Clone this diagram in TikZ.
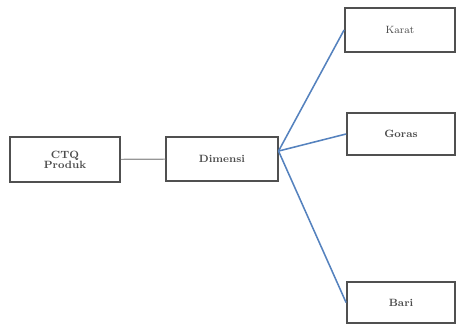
\documentclass[tikz,border=0pt]{standalone}
\usepackage{tikz}
\usetikzlibrary{arrows,arrows.meta}
\usetikzlibrary{calc}
\definecolor{rahmen}{RGB}{80,80,80}
\definecolor{strich}{RGB}{150,150,150}
\definecolor{ast}{RGB}{85,130,190}
\definecolor{schrift}{RGB}{75,75,75}
\tikzset{kasten/.style={draw=rahmen, line width=1.3pt, minimum width=2.75cm, minimum height=1.1cm, inner sep=0pt, align=center, font=\fontsize{7.5}{7}\selectfont\bfseries, text=schrift}}

\begin{document}
\begin{tikzpicture}[x=0.025cm, y=-0.025cm]

    \useasboundingbox (0,0) rectangle (456,329);

    \node[kasten, minimum height=1.125cm] (ctq) at (65,159.5) {CTQ\\Produk};
				\node[kasten, minimum width=2.78cm] (dim) at (222,159) {Dimensi};
				\node[kasten] (karat) at (400,30) {\mdseries Karat};
				\node[kasten, minimum width=2.7cm, minimum height=1.05cm] (goras) at (401,134) {Goras};
				\node[kasten, minimum width=2.7cm, minimum height=1.03cm] (bari) at (401,302.5) {Bari};

				\draw[strich, line width=0.8pt] (ctq) -- (dim);
				\draw[ast, line width=1.1pt] (dim.8) -- (karat.west);
				\draw[ast, line width=1.1pt] (dim.8) -- (goras.west);
				\draw[ast, line width=1.1pt] (dim.8) -- (bari.west);

\end{tikzpicture}
\end{document}
